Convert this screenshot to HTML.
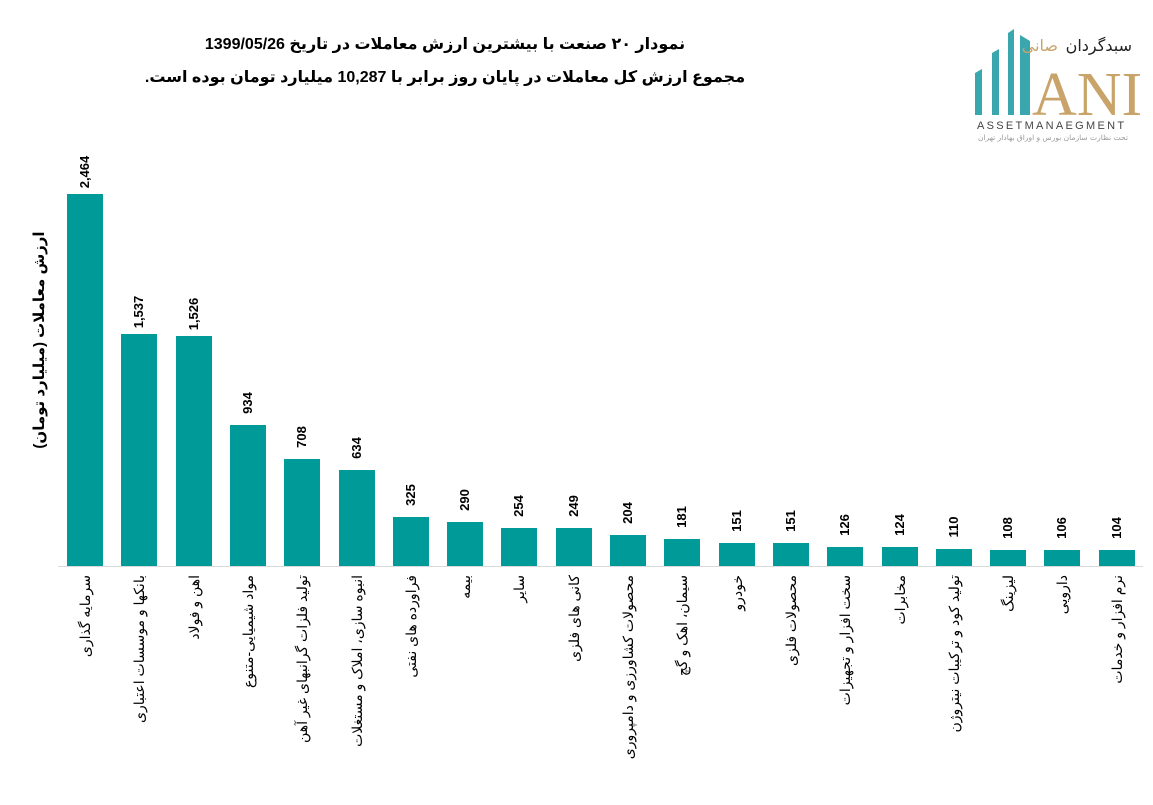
<!DOCTYPE html>
<html><head><meta charset="utf-8"><style>
body{margin:0;width:1153px;height:800px;background:#fff;position:relative;overflow:hidden;font-family:"Liberation Sans","DejaVu Sans",sans-serif}
.t{position:absolute;left:100px;width:690px;text-align:center;direction:rtl;font-weight:bold;font-size:16px;color:#000}
.bar{position:absolute;background:#009A99;width:36px}
.v{position:absolute;width:60px;text-align:center;font-weight:bold;font-size:13px;transform:rotate(-90deg)}
.l{position:absolute;width:230px;height:20px;line-height:20px;text-align:right;direction:rtl;font-size:14px;transform:rotate(-90deg);white-space:nowrap}
</style></head><body>
<div class="t" style="top:34px">نمودار ۲۰ صنعت با بیشترین ارزش معاملات در تاریخ 1399/05/26</div>
<div class="t" style="top:67px">مجموع ارزش کل معاملات در پایان روز برابر با 10,287 میلیارد تومان بوده است.</div>
<div class="l" style="left:-75px;top:330px;width:230px;font-weight:bold;font-size:15px;text-align:center">ارزش معاملات (میلیارد تومان)</div>
<div style="position:absolute;left:58px;top:566px;width:1085px;height:1px;background:#d9d9d9"></div>
<svg style="position:absolute;left:970px;top:25px" width="180" height="120">
<polygon points="5,90 5,48 12,44 12,90" fill="#3aa6ad"/>
<polygon points="22,90 22,28 29,24 29,90" fill="#3aa6ad"/>
<polygon points="38,90 38,8 44,4 44,90" fill="#3aa6ad"/>
<polygon points="50,90 50,10 60,16 60,90" fill="#3aa6ad"/>
<text x="62" y="90" font-family="Liberation Serif,serif" font-size="62" fill="#c9a46a">ANI</text>
<text x="162" y="26" font-family="DejaVu Sans,sans-serif" font-size="16" fill="#222" text-anchor="end">سبدگردان</text>
<text x="88" y="26" font-family="DejaVu Sans,sans-serif" font-size="16" fill="#c9a46a" text-anchor="end">صانی</text>
<text x="7" y="104" font-family="Liberation Sans,sans-serif" font-size="11" letter-spacing="2.3" fill="#444">ASSETMANAEGMENT</text>
<text x="8" y="115" font-family="DejaVu Sans,sans-serif" font-size="7.5" fill="#999">تحت نظارت سازمان بورس و اوراق بهادار تهران</text>
</svg>
<div id="c"></div>
<script>
var d=[["سرمایه گذاری",2464],["بانکها و موسسات اعتباری",1537],["اهن و فولاد",1526],["مواد شیمیایی-متنوع",934],["تولید فلزات گرانبهای غیر آهن",708],["انبوه سازی، املاک و مستغلات",634],["فراورده های نفتی",325],["بیمه",290],["سایر",254],["کانی های فلزی",249],["محصولات کشاورزی و دامپروری",204],["سیمان، اهک و گچ",181],["خودرو",151],["محصولات فلزی",151],["سخت افزار و تجهیزات",126],["مخابرات",124],["تولید کود و ترکیبات نیتروژن",110],["لیزینگ",108],["دارویی",106],["نرم افزار و خدمات",104]];
var h="";d.forEach(function(e,i){var cx=85+54.3*i,bh=e[1]*372/2464,top=566-bh;
h+='<div class="bar" style="left:'+(cx-18)+'px;top:'+top+'px;height:'+bh+'px"></div>';
h+='<div class="v" style="left:'+(cx-30)+'px;top:'+(top-30)+'px;height:16px;line-height:16px">'+e[1].toLocaleString("en-US")+'</div>';
h+='<div class="l" style="left:'+(cx-115)+'px;top:'+(690-10)+'px">'+e[0]+'</div>';});
document.getElementById("c").innerHTML=h;
</script>
</body></html>
